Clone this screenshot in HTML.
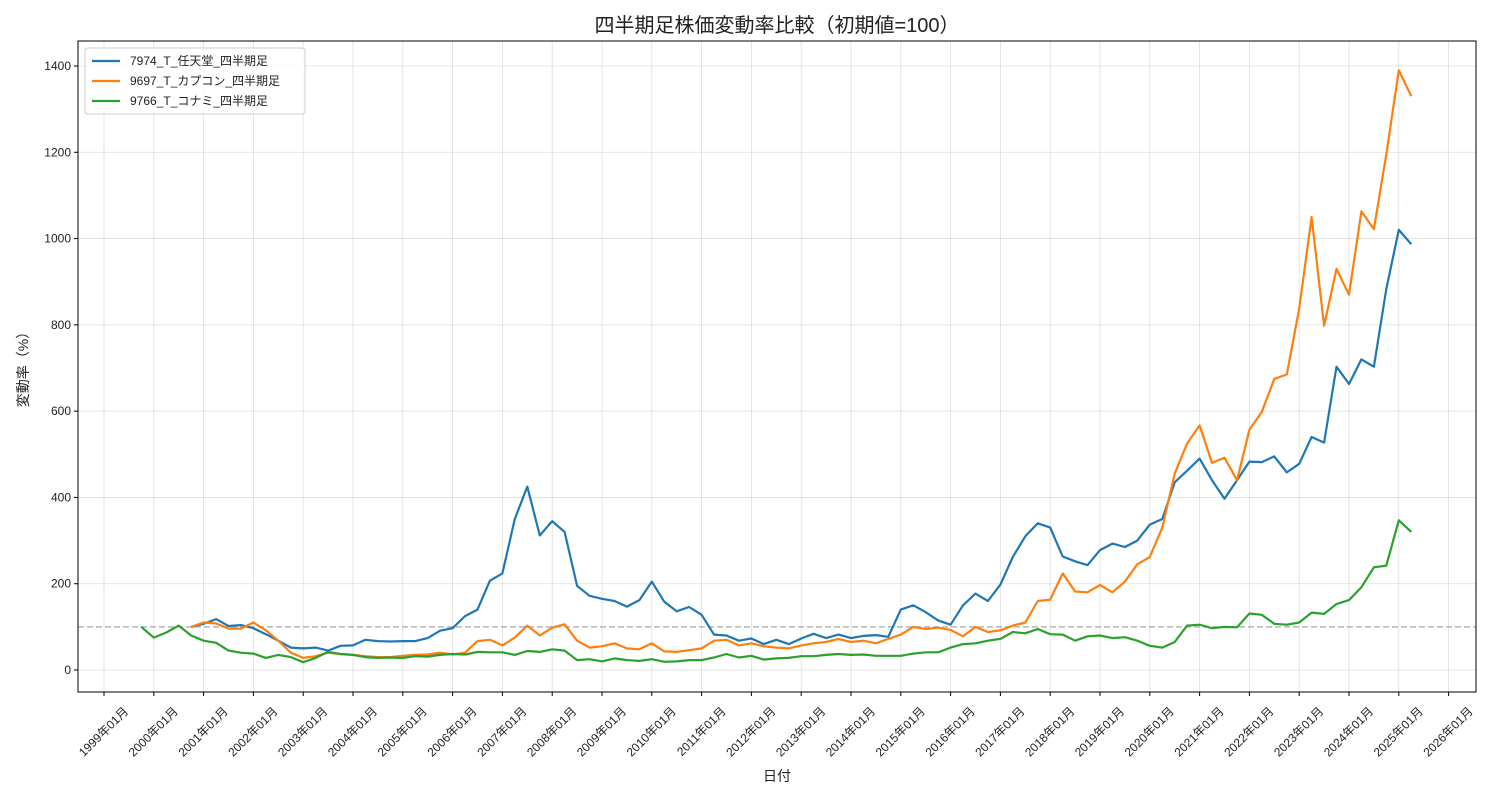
<!DOCTYPE html>
<html><head><meta charset="utf-8"><style>
body{margin:0;background:#fff;}
svg{display:block;font-family:"Liberation Sans","Noto Sans CJK JP",sans-serif;}
</style></head><body>
<svg id="chart" width="1500" height="800" xmlns="http://www.w3.org/2000/svg"></svg>
<script>
const tickYears=[1999,2000,2001,2002,2003,2004,2005,2006,2007,2008,2009,2010,2011,2012,2013,2014,2015,2016,2017,2018,2019,2020,2021,2022,2023,2024,2025,2026];
const yTicks=[0,200,400,600,800,1000,1200,1400];
const seriesNames=["7974_T_任天堂_四半期足","9697_T_カプコン_四半期足","9766_T_コナミ_四半期足"];
const seriesStart=[[2000,10],[2000,10],[1999,10]];
const nintendo=[100,107,118,102,104,97,83,68,52,50,52,45,56,57,70,67,66,67,67,74,91,97,125,140,207,224,350,425,312,345,320,195,172,165,160,147,162,205,158,136,146,128,82,80,68,73,60,70,60,73,84,74,82,74,79,81,77,140,150,134,115,105,150,177,160,198,262,310,340,330,263,252,243,278,293,285,300,337,350,435,462,490,440,397,440,483,482,495,458,478,540,527,703,663,720,703,883,1020,987];
const capcom=[100,110,108,96,96,110,92,68,40,28,32,40,37,35,32,30,30,33,35,36,40,36,40,67,70,57,75,103,80,98,106,68,52,55,62,50,48,62,43,42,46,50,68,70,57,62,55,52,50,57,62,65,72,65,68,62,72,82,100,95,98,93,78,100,88,92,103,110,160,163,224,182,180,197,180,205,245,262,330,455,525,567,480,492,440,557,598,675,685,838,1050,798,930,870,1063,1022,1195,1390,1330];
const konami=[100,75,87,103,80,68,63,45,40,38,28,35,30,18,28,42,37,35,30,28,29,28,32,31,35,37,36,42,41,41,35,44,42,48,45,23,25,20,27,23,21,25,19,20,23,23,29,37,29,33,24,27,28,32,32,35,37,35,36,33,33,33,38,41,41,52,60,62,68,72,88,85,95,83,82,68,78,80,74,76,68,56,52,65,103,105,97,100,99,131,128,107,105,110,133,130,153,162,192,238,242,347,320];
const colors=["#1f77b4","#ff7f0e","#2ca02c"];
const svg=document.getElementById('chart');
const NS="http://www.w3.org/2000/svg";
const L=78,R=1476,T=41,B=692;
function xs(t){return 104+(t-1999)*49.8;}
function ys(v){return 670-v*(604/1400);}
function mk(tag,attrs,parent){const e=document.createElementNS(NS,tag);for(const k in attrs)e.setAttribute(k,attrs[k]);(parent||svg).appendChild(e);return e;}
tickYears.forEach(y=>{const l=mk('line',{x1:xs(y),x2:xs(y),y1:T,y2:B,stroke:'#b0b0b0','stroke-opacity':0.4,'stroke-width':0.8});

});
yTicks.forEach(v=>{const l=mk('line',{x1:L,x2:R,y1:ys(v),y2:ys(v),stroke:'#b0b0b0','stroke-opacity':0.4,'stroke-width':0.8});

});
const bl=mk('line',{x1:L,x2:R,y1:ys(100),y2:ys(100),stroke:'#999','stroke-opacity':0.7,'stroke-width':1.5,'stroke-dasharray':'6,3'});


[nintendo,capcom,konami].forEach((d,i)=>{
 const [sy,sm]=seriesStart[i];const t0=sy+(sm-1)/12;
 const pts=d.map((v,j)=>xs(t0+j*0.25).toFixed(1)+','+ys(v).toFixed(1)).join(' ');
 const p=mk('polyline',{points:pts,fill:'none',stroke:colors[i],'stroke-width':2.2,'stroke-linejoin':'round'});
 
 
});
const fr=mk('rect',{x:L,y:T,width:R-L,height:B-T,fill:'none',stroke:'#000','stroke-width':1});


tickYears.forEach(y=>{const x=xs(y);
 const tk=mk('line',{x1:x,x2:x,y1:B,y2:B+4,stroke:'#000'});
 
 
 const ax=x+25, ay=B+20;
 const t=mk('text',{x:ax,y:ay,'font-size':12,'text-anchor':'end',fill:'#222',transform:`rotate(-45 ${ax} ${ay})`});
 t.textContent=y+'年01月';
 
 });
yTicks.forEach(v=>{const y=ys(v);
 const tk=mk('line',{x1:L-4,x2:L,y1:y,y2:y,stroke:'#000'});
 
 
 const t=mk('text',{x:L-7,y:y+4,'font-size':12,'text-anchor':'end',fill:'#222'});
 t.textContent=v;
 
 });
let t=mk('text',{x:777,y:32,'font-size':20,'text-anchor':'middle',fill:'#222'});t.textContent='四半期足株価変動率比較（初期値=100）';


t=mk('text',{x:777,y:781,'font-size':14,'text-anchor':'middle',fill:'#222'});t.textContent='日付';


t=mk('text',{x:28,y:366,'font-size':14,'text-anchor':'middle',fill:'#222',transform:'rotate(-90 28 366)'});t.textContent='変動率（%）';


const lg=mk('rect',{x:85,y:48,width:220,height:66,rx:3,fill:'#fff','fill-opacity':0.8,stroke:'#ccc'});


seriesNames.forEach((n,i)=>{const y=61+i*20;
 const l=mk('line',{x1:92,x2:120,y1:y,y2:y,stroke:colors[i],'stroke-width':2.2});
 
 
 const tx=mk('text',{x:130,y:y+4,'font-size':12,fill:'#222'});tx.textContent=n;
 
 });
</script>
</body></html>
